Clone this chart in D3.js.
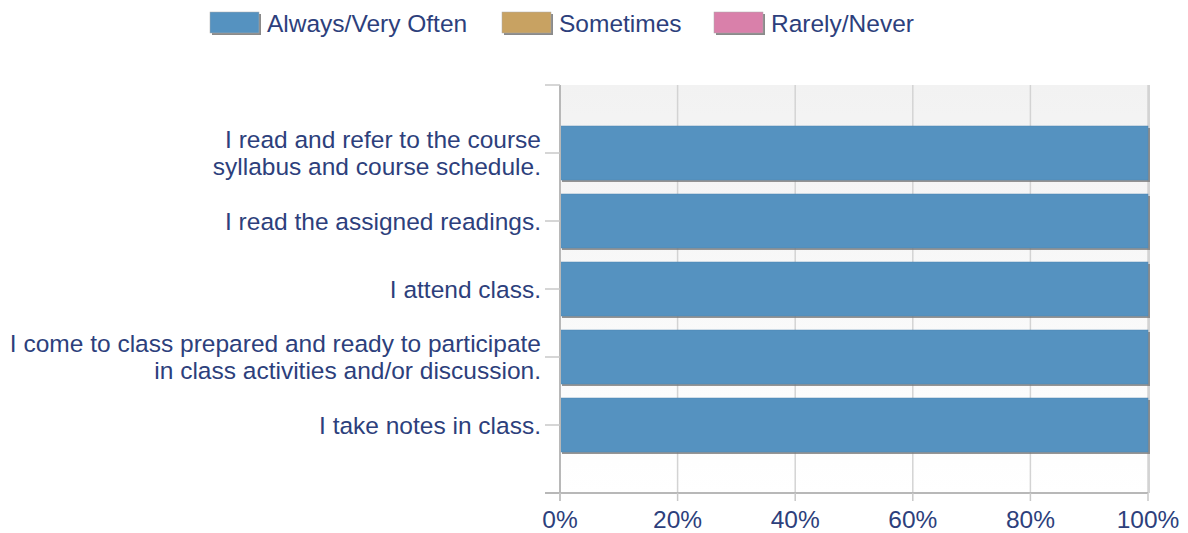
<!DOCTYPE html>
<html><head><meta charset="utf-8">
<script src="https://cdn.jsdelivr.net/npm/d3@7"></script>
<style>body{margin:0;background:#fff}svg{display:block;font-family:"Liberation Sans",Arial,sans-serif}</style>
</head><body><svg id="c" width="1188" height="533"></svg>
<script>
const categories = [
  ["I read and refer to the course", "syllabus and course schedule."],
  ["I read the assigned readings."],
  ["I attend class."],
  ["I come to class prepared and ready to participate", "in class activities and/or discussion."],
  ["I take notes in class."]
];
const seriesNames = ["Always/Very Often", "Sometimes", "Rarely/Never"];
const seriesColors = ["#5592c0", "#c8a262", "#d980aa"];
const always = [100, 100, 100, 100, 100];
const sometimes = [0, 0, 0, 0, 0];
const rarely = [0, 0, 0, 0, 0];
const xTicks = [0, 20, 40, 60, 80, 100];

const svg = d3.select("#c");
const textColor = "#2d3f7c";
const FS = 24.5;
const L = 560, R = 1148, T = 85, B = 493;
const keys = categories.map((d, i) => i);
const x = d3.scaleLinear().domain([0, 100]).range([L, R]);
const y = d3.scalePoint().domain(keys).range([T, B]).padding(1);
const bh = 54;

const defs = svg.append("defs");
const g = defs.append("linearGradient").attr("id", "bg").attr("x1", 0).attr("y1", 0).attr("x2", 0).attr("y2", 1);
g.append("stop").attr("offset", "0").attr("stop-color", "#f2f2f2");
g.append("stop").attr("offset", "1").attr("stop-color", "#ffffff");

svg.append("rect").attr("x", L).attr("y", T).attr("width", R - L).attr("height", B - T).attr("fill", "url(#bg)");

// right shadow edge of plot
svg.append("line").attr("x1", R + 1).attr("x2", R + 1).attr("y1", T).attr("y2", B)
  .attr("stroke", "#d4d4d4").attr("stroke-width", 2);

// grid
svg.append("g").selectAll("line").data(xTicks.slice(1)).join("line")
  .attr("x1", d => x(d)).attr("x2", d => x(d)).attr("y1", T).attr("y2", B)
  .attr("stroke", "#d3d3d3").attr("stroke-width", 1.5);

// stacked bars
const stackData = keys.map(i => ({i, a: always[i], s: sometimes[i], r: rarely[i]}));
const stack = d3.stack().keys(["a", "s", "r"])(stackData);
stack.forEach((layer, li) => {
  const gg = svg.append("g");
  layer.forEach(d => {
    const w = x(d[1]) - x(d[0]);
    if (w <= 0) return;
    const cy = y(d.data.i);
    gg.append("rect").attr("x", x(d[0]) + 2).attr("y", cy - bh / 2 + 2).attr("width", w).attr("height", bh)
      .attr("fill", "#7a7a7a").attr("opacity", 0.8);
    gg.append("rect").attr("x", x(d[0])).attr("y", cy - bh / 2).attr("width", w).attr("height", bh)
      .attr("fill", seriesColors[li]).attr("stroke", "#4d85b0").attr("stroke-width", 0.5);
  });
});

// axes lines
svg.append("line").attr("x1", L).attr("x2", L).attr("y1", T).attr("y2", B + 8).attr("stroke", "#b8b8b8").attr("stroke-width", 2);
svg.append("line").attr("x1", L - 15).attr("x2", R).attr("y1", B).attr("y2", B).attr("stroke", "#b8b8b8").attr("stroke-width", 2);
// y ticks: top, category centres
svg.append("g").selectAll("line").data([T].concat(keys.map(k => y(k)))).join("line")
  .attr("x1", L - 15).attr("x2", L).attr("y1", d => d).attr("y2", d => d)
  .attr("stroke", "#c8c8c8").attr("stroke-width", 1.5);
// x ticks
svg.append("g").selectAll("line").data(xTicks).join("line")
  .attr("x1", d => x(d)).attr("x2", d => x(d)).attr("y1", B).attr("y2", B + 8)
  .attr("stroke", "#c8c8c8").attr("stroke-width", 1.5);

// x labels
svg.append("g").selectAll("text").data(xTicks).join("text")
  .attr("x", d => x(d)).attr("y", 527.5).attr("text-anchor", "middle")
  .attr("font-size", FS).attr("fill", textColor).text(d => d + "%");

// y labels
const yl = svg.append("g");
keys.forEach(k => {
  const lines = categories[k];
  const cy = y(k);
  const lh = 27;
  lines.forEach((t, j) => {
    yl.append("text").attr("x", 541).attr("y", cy + (j - (lines.length - 1) / 2) * lh + 8.5)
      .attr("text-anchor", "end").attr("font-size", FS).attr("fill", textColor).text(t);
  });
});

// legend
const legX = [210, 502, 714];
seriesNames.forEach((n, i) => {
  const lg = svg.append("g");
  lg.append("rect").attr("x", legX[i] + 2).attr("y", 14).attr("width", 49).attr("height", 21).attr("fill", "#8a8a8a");
  lg.append("rect").attr("x", legX[i]).attr("y", 12).attr("width", 49).attr("height", 21).attr("fill", seriesColors[i]).attr("stroke", "#aaa").attr("stroke-width", 0.5);
  lg.append("text").attr("x", legX[i] + 57).attr("y", 31.5).attr("font-size", FS).attr("fill", textColor).text(n);
});
</script></body></html>
